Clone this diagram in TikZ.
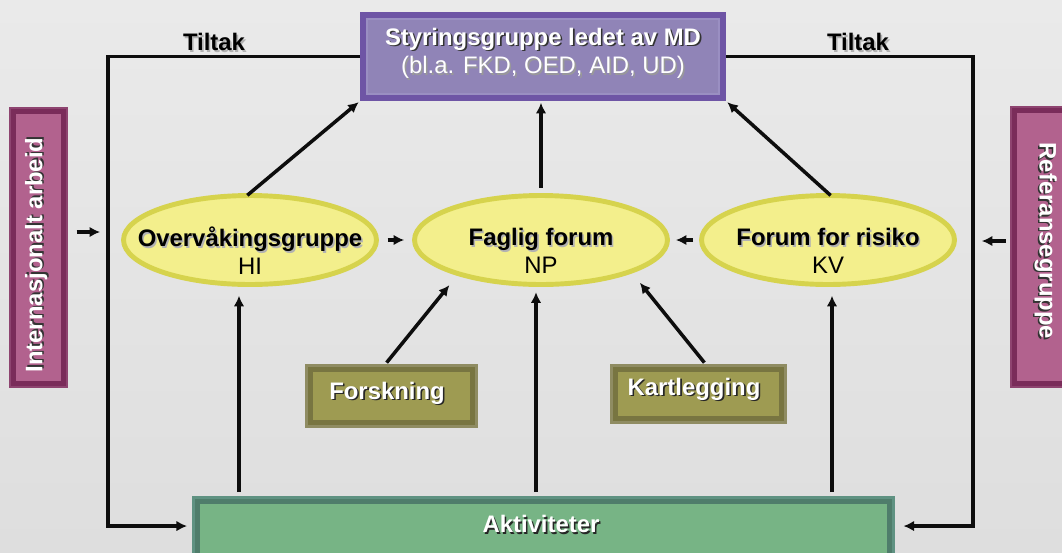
\documentclass[tikz,border=0pt]{standalone}
\usepackage{fontspec}
\setmainfont{Liberation Sans}
\usetikzlibrary{arrows.meta,calc,shapes.geometric}
\definecolor{bgT}{HTML}{EAEAEA}
\definecolor{bgB}{HTML}{DEDEDE}
\definecolor{purB}{HTML}{6E55A5}
\definecolor{purL}{HTML}{9A8FC2}
\definecolor{purF}{HTML}{9084B7}
\definecolor{yelF}{HTML}{F3EF8C}
\definecolor{yelB}{HTML}{D6D34D}
\definecolor{olF}{HTML}{9E9B52}
\definecolor{olB}{HTML}{787541}
\definecolor{olL}{HTML}{8F8C62}
\definecolor{grF}{HTML}{77B485}
\definecolor{grB}{HTML}{4F7D6B}
\definecolor{grL}{HTML}{5F9282}
\definecolor{pkF}{HTML}{B2628E}
\definecolor{pkB}{HTML}{7A2C5A}
\definecolor{pkL}{HTML}{8E4470}
\newcommand{\shw}[2]{\makebox[0pt][l]{\kern0.9pt\raisebox{-0.9pt}{\color{#1}#2}}#2}
\begin{document}
\begin{tikzpicture}[x=0.02cm,y=-0.02cm,
  line/.style={draw=black!95, line width=2pt},
  arr/.style={line, -{Latex[length=6pt,width=6pt]}},
  txt/.style={font=\fontsize{13.6}{16}\selectfont\bfseries, inner sep=0pt, align=center},
  wtxt/.style={txt, text=white},
  stybox/.style={rectangle, fill=purF, draw=purL, line width=1.2pt, preaction={draw=purB, line width=8pt}, minimum width=7.04cm, minimum height=1.5cm, inner sep=0pt, outer sep=4pt},
  ellbox/.style={ellipse, fill=yelF, draw=yelB, line width=2.8pt, minimum width=5.06cm, minimum height=1.78cm, inner sep=0pt, outer sep=1.4pt},
  olbox/.style={rectangle, fill=olF, draw=olB, line width=3pt, preaction={draw=olL, line width=6pt}, inner sep=0pt, outer sep=3pt},
  grbox/.style={rectangle, fill=grF, draw=grB, line width=3pt, preaction={draw=grL, line width=6pt}, inner sep=0pt, outer sep=3pt},
  pkbox/.style={rectangle, fill=pkF, draw=pkB, line width=3pt, preaction={draw=pkL, line width=5pt}, inner sep=0pt, outer sep=2.5pt}
]
\useasboundingbox (0,0) rectangle (1062,552);
\clip (0,0) rectangle (1062,552);
\shade[top color=bgT, bottom color=bgB] (0,0) rectangle (1062,552);

% boxes
\node[stybox] (sty) at (543,56.5) {};
\node[wtxt] (styt) at (543,54) {\shw{black!80}{Styringsgruppe ledet av MD}\\\mdseries\shw{black!40}{(bl.a. FKD, OED, AID, UD)}};

\node[pkbox, minimum width=1.0cm, minimum height=5.44cm] (int) at (38.5,247.5) {};
\node[wtxt, rotate=90] (intt) at (37,255) {\shw{black!80}{Internasjonalt arbeid}};
\node[pkbox, minimum width=1.22cm, minimum height=5.46cm] (ref) at (1045,247) {};
\node[wtxt, rotate=-90] (reft) at (1045,241) {\shw{black!80}{Referansegruppe}};

\node[ellbox] (ov) at (250,240) {};
\node[txt] (ovt) at (250,251) {\shw{black!30}{Overvåkingsgruppe}\\\mdseries HI};
\node[ellbox] (ff) at (541,240) {};
\node[txt] (fft) at (541,251) {\shw{black!30}{Faglig forum}\\\mdseries NP};
\node[ellbox] (fr) at (828,240) {};
\node[txt] (frt) at (828,251) {\shw{black!30}{Forum for risiko}\\\mdseries KV};

\node[olbox, minimum width=3.25cm, minimum height=1.07cm] (fo) at (391.5,396) {};
\node[wtxt] (fot) at (387,394) {\shw{black!85}{Forskning}};
\node[olbox, minimum width=3.33cm, minimum height=0.99cm] (ka) at (698.5,394) {};
\node[wtxt] (kat) at (694,390) {\shw{black!85}{Kartlegging}};

\node[grbox, minimum width=13.84cm, minimum height=1.974cm] (akt) at (543.5,550.65) {};
\node[wtxt] (aktt) at (541,525) {\shw{black!85}{Aktiviteter}};

\node[txt] (tl) at (214,43) {\shw{black!30}{Tiltak}};
\node[txt] (tr) at (858,43) {\shw{black!30}{Tiltak}};

% frame
\coordinate (lc) at (108,232);
\coordinate (rc) at (973,241);
\draw[arr, shorten >=3pt] (sty.west) -- (sty.west -| lc) |- ($(akt.north west)+(0,30)$);
\draw[arr, shorten >=5pt] (sty.east) -- (sty.east -| rc) |- ($(akt.north east)+(0,30)$);
\draw[arr, shorten <=5pt, shorten >=4.5pt] (int.east |- lc) -- (lc);
\draw[arr, shorten <=2.5pt, shorten >=5pt] (ref.west |- rc) -- (rc);

% ellipses
\draw[arr, shorten <=5pt, shorten >=4.5pt] (ov.east) -- (ff.west);
\draw[arr, shorten <=3.4pt, shorten >=3.4pt] (fr.west) -- (ff.east);
\draw[arr, shorten <=-2pt, shorten >=1pt] (ov.north) -- (sty.south west);
\draw[arr, shorten <=-2pt, shorten >=1pt] (fr.north) -- (sty.south east);
\draw[arr, shorten <=3pt, shorten >=1pt] (ff.north) -- (ff.north |- sty.south);

% from below
\coordinate (ovb) at ($(ov.south)+(-11,0)$);
\coordinate (ffb) at ($(ff.south)+(-5,0)$);
\coordinate (frb) at ($(fr.south)+(4,0)$);
\draw[arr, shorten <=2.3pt, shorten >=5pt] (ovb |- akt.north) -- (ovb);
\draw[arr, shorten <=2.3pt, shorten >=3pt] (ffb |- akt.north) -- (ffb);
\draw[arr, shorten <=2.3pt, shorten >=5pt] (frb |- akt.north) -- (frb);

\coordinate (fob) at ($(fo.north)+(-6,0)$);
\coordinate (kab) at ($(ka.north)+(7,0)$);
\draw[arr, shorten <=1pt, shorten >=7pt] (fob) -- (ff.203);
\draw[arr, shorten <=1pt, shorten >=7pt] (kab) -- (ff.340);
\end{tikzpicture}
\end{document}
